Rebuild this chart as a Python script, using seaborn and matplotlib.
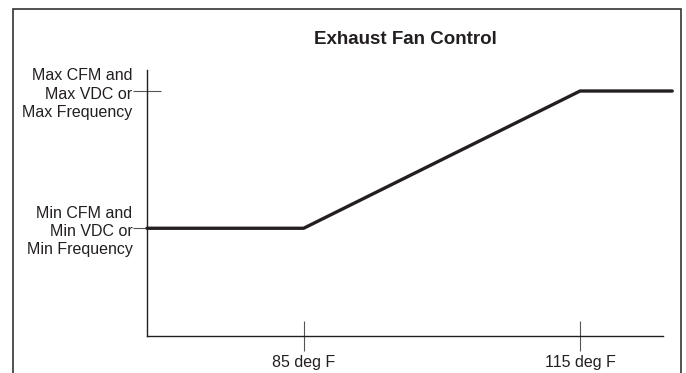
import seaborn as sns
import pandas as pd
import matplotlib.pyplot as plt
from matplotlib.patches import Rectangle

# Data (temperature in deg F, fan output in relative units: 0 = min, 1 = max)
temps = [68, 85, 115, 125]
output = [0, 0, 1, 1]
x_ticks = [85, 115]
x_labels = ['85 deg F', '115 deg F']
y_ticks = [0, 1]
y_labels = ['Min CFM and\nMin VDC or\nMin Frequency',
            'Max CFM and\nMax VDC or\nMax Frequency']

df = pd.DataFrame({'Temp': temps, 'Output': output})

sns.set_theme(style="white")
plt.rcParams['font.family'] = ['Liberation Sans', 'DejaVu Sans']

fig = plt.figure(figsize=(6.86, 3.73), dpi=100)
ax = fig.add_axes([0.2143, 0.0992, 0.7522, 0.7131])

sns.lineplot(data=df, x='Temp', y='Output', color='#231f20', linewidth=2.4, ax=ax)
ax.lines[0].set_clip_on(False)

ax.set_xlim(68, 124)
ax.set_ylim(-0.785, 1.153)

ax.set_xticks(x_ticks)
ax.set_xticklabels(x_labels, fontsize=11.5, color='#231f20')
ax.set_yticks(y_ticks)
ax.set_yticklabels(y_labels, fontsize=11.5, color='#231f20', ha='right',
                   linespacing=1.27)

ax.tick_params(axis='both', bottom=True, left=True)
ax.tick_params(axis='y', direction='inout', length=20, width=0.8, color='#555555', pad=0.5)
ax.tick_params(axis='x', direction='inout', length=22, width=0.8, color='#555555', pad=3.0)

for side in ['top', 'right']:
    ax.spines[side].set_visible(False)
for side in ['left', 'bottom']:
    ax.spines[side].set_color('#231f20')
    ax.spines[side].set_linewidth(1.0)

ax.set_xlabel('')
ax.set_ylabel('')

fig.text(405 / 686, 1 - 40 / 373, 'Exhaust Fan Control', ha='center', va='center',
         fontsize=13.5, fontweight='bold', color='#231f20')

# Frame around the whole figure
fig.patches.append(Rectangle((13 / 686, -0.05), (681 - 13) / 686, 1 - 9 / 373 + 0.05,
                             transform=fig.transFigure, fill=False,
                             edgecolor='#333333', linewidth=1.2))

fig.savefig('out.png', dpi=100)
